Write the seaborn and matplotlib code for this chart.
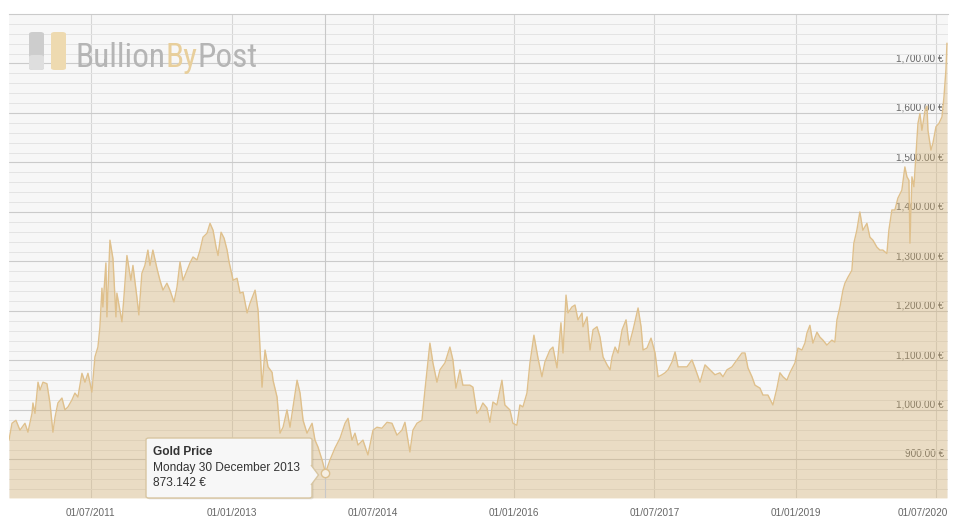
import numpy as np
import pandas as pd
import matplotlib
matplotlib.use("Agg")
import matplotlib.pyplot as plt
import matplotlib.dates as mdates
import matplotlib.transforms as mtransforms
from matplotlib.patches import FancyBboxPatch, Polygon
import seaborn as sns

# === data (time as decimal year, price in EUR/oz) ===
t_years = [
    2010.627, 2010.659, 2010.701, 2010.744, 2010.797, 2010.829, 2010.872, 2010.882, 2010.904, 2010.936, 2010.957, 2010.989,
    2011.031, 2011.063, 2011.095, 2011.117, 2011.148, 2011.191, 2011.223, 2011.255, 2011.297, 2011.329, 2011.361, 2011.404,
    2011.436, 2011.468, 2011.510, 2011.542, 2011.574, 2011.595, 2011.617, 2011.627, 2011.659, 2011.670, 2011.702, 2011.734,
    2011.766, 2011.776, 2011.830, 2011.851, 2011.883, 2011.925, 2011.947, 2011.989,
    2012.010, 2012.042, 2012.074, 2012.106, 2012.128, 2012.159, 2012.202, 2012.234, 2012.266, 2012.308, 2012.340, 2012.383,
    2012.415, 2012.447, 2012.479, 2012.521, 2012.553, 2012.585, 2012.628, 2012.660, 2012.691, 2012.734, 2012.766, 2012.798,
    2012.830, 2012.851, 2012.883, 2012.915, 2012.947, 2012.968,
    2013.011, 2013.053, 2013.085, 2013.117, 2013.160, 2013.192, 2013.245, 2013.277, 2013.319, 2013.351, 2013.383, 2013.426,
    2013.436, 2013.479, 2013.511, 2013.543, 2013.585, 2013.617, 2013.649, 2013.692, 2013.724, 2013.756, 2013.798, 2013.852,
    2013.883, 2013.915, 2013.958, 2013.995,
    2014.043, 2014.096, 2014.150, 2014.203, 2014.235, 2014.277, 2014.309, 2014.341, 2014.394, 2014.447, 2014.501, 2014.543,
    2014.596, 2014.650, 2014.703, 2014.756, 2014.809, 2014.841, 2014.894, 2014.926, 2014.969,
    2015.022, 2015.054, 2015.107, 2015.139, 2015.182, 2015.214, 2015.267, 2015.320, 2015.352, 2015.384, 2015.427, 2015.458,
    2015.533, 2015.565, 2015.607, 2015.639, 2015.671, 2015.714, 2015.746, 2015.778, 2015.820, 2015.874, 2015.905, 2015.959,
    2015.991,
    2016.033, 2016.065, 2016.097, 2016.140, 2016.172, 2016.214, 2016.257, 2016.299, 2016.331, 2016.384, 2016.416, 2016.459,
    2016.501, 2016.523, 2016.555, 2016.576, 2016.618, 2016.650, 2016.682, 2016.725, 2016.735, 2016.778, 2016.810, 2016.842,
    2016.884, 2016.916, 2016.948, 2016.991,
    2017.023, 2017.044, 2017.076, 2017.108, 2017.151, 2017.193, 2017.225, 2017.268, 2017.321, 2017.353, 2017.374, 2017.416,
    2017.459, 2017.502, 2017.534, 2017.576, 2017.608, 2017.640, 2017.683, 2017.715, 2017.747, 2017.800, 2017.842, 2017.895,
    2017.927, 2017.981,
    2018.034, 2018.087, 2018.140, 2018.193, 2018.225, 2018.268, 2018.321, 2018.374, 2018.427, 2018.460, 2018.491, 2018.534,
    2018.566, 2018.619, 2018.651, 2018.704, 2018.757, 2018.800, 2018.832, 2018.864, 2018.906, 2018.938, 2018.992,
    2019.024, 2019.066, 2019.098, 2019.119, 2019.151, 2019.183, 2019.226, 2019.258, 2019.290, 2019.332, 2019.385, 2019.417,
    2019.439, 2019.471, 2019.503, 2019.524, 2019.556, 2019.598, 2019.619, 2019.651, 2019.683, 2019.715, 2019.758, 2019.790,
    2019.822, 2019.864, 2019.896, 2019.928, 2019.971, 2019.992,
    2020.024, 2020.056, 2020.088, 2020.130, 2020.162, 2020.184, 2020.205, 2020.216, 2020.237, 2020.258, 2020.290, 2020.301,
    2020.322, 2020.343, 2020.375, 2020.397, 2020.407, 2020.439, 2020.460, 2020.492, 2020.524, 2020.556, 2020.577, 2020.598,
    2020.609,
]
prices = [
    939, 973, 979, 959, 973, 955, 993, 1014, 993, 1056, 1040, 1056,
    1053, 1014, 955, 985, 1014, 1024, 1000, 1006, 1020, 1034, 1026, 1074,
    1056, 1074, 1036, 1107, 1127, 1167, 1246, 1208, 1297, 1188, 1343, 1306,
    1188, 1236, 1178, 1228, 1312, 1262, 1292, 1228,
    1192, 1276, 1292, 1323, 1292, 1323, 1286, 1262, 1242, 1256, 1242, 1218,
    1248, 1299, 1262, 1282, 1297, 1309, 1303, 1323, 1349, 1357, 1377, 1363,
    1329, 1312, 1359, 1347, 1323, 1299,
    1262, 1266, 1236, 1238, 1196, 1216, 1242, 1201, 1046, 1121, 1087, 1076,
    1060, 1026, 953, 965, 1000, 965, 1006, 1060, 1034, 979, 953, 973,
    939, 925, 899, 873.142,
    899, 923, 943, 973, 983, 939, 953, 929, 939, 909, 959, 965,
    963, 975, 973, 949, 959, 975, 915, 959, 973,
    979, 1040, 1135, 1095, 1056, 1081, 1095, 1127, 1101, 1044, 1081, 1050,
    1050, 1046, 993, 1000, 1014, 1004, 975, 1016, 1010, 1060, 1010, 1000,
    973,
    969, 1010, 1006, 1034, 1095, 1151, 1105, 1067, 1097, 1121, 1127, 1085,
    1176, 1115, 1232, 1196, 1208, 1212, 1182, 1196, 1168, 1188, 1121, 1162,
    1168, 1147, 1107, 1091,
    1081, 1107, 1127, 1115, 1162, 1182, 1131, 1162, 1206, 1168, 1121, 1125,
    1145, 1115, 1067, 1071, 1075, 1081, 1097, 1117, 1087, 1087, 1087, 1101,
    1085, 1056,
    1091, 1081, 1071, 1075, 1067, 1081, 1087, 1101, 1115, 1115, 1085, 1067,
    1050, 1044, 1030, 1030, 1010, 1044, 1075, 1067, 1060, 1075, 1095,
    1125, 1121, 1135, 1155, 1171, 1135, 1157, 1147, 1141, 1131, 1141, 1137,
    1182, 1208, 1242, 1256, 1268, 1282, 1337, 1363, 1400, 1363, 1377, 1349,
    1343, 1329, 1323, 1323, 1316, 1363,
    1404, 1404, 1428, 1444, 1491, 1471, 1464, 1337, 1471, 1451, 1545, 1579,
    1599, 1565, 1604, 1614, 1565, 1525, 1539, 1572, 1579, 1592, 1632, 1687,
    1741,
]

x_tick_dates = ["2011-07-01", "2013-01-01", "2014-07-01", "2016-01-01",
                "2017-07-01", "2019-01-01", "2020-07-01"]
y_ticks = [900, 1000, 1100, 1200, 1300, 1400, 1500, 1600, 1700]
y_tick_labels = ["900.00 €", "1,000.00 €", "1,100.00 €", "1,200.00 €", "1,300.00 €",
                 "1,400.00 €", "1,500.00 €", "1,600.00 €", "1,700.00 €"]
y_range = (822, 1800)
x_range = (2010.627, 2020.620)

tooltip_title = "Gold Price"
tooltip_date = "2013-12-30"
tooltip_price = 873.142

logo_parts = ["Bullion", "By", "Post"]

LINE = "#dfc08c"
FILL = "#d4ae6a"
W, H = 956, 531


def decimal_to_date(t):
    year = int(t)
    start = pd.Timestamp(year, 1, 1)
    end = pd.Timestamp(year + 1, 1, 1)
    return start + (end - start) * (t - year)


def px(x, y):
    # figure pixel (from top-left) -> figure fraction
    return x / W, 1 - y / H


df = pd.DataFrame({"date": [decimal_to_date(t) for t in t_years], "price": prices})

sns.set_style("white")
plt.rcParams["font.family"] = ["Liberation Sans", "DejaVu Sans"]

fig = plt.figure(figsize=(W / 100, H / 100), dpi=100)
ax = fig.add_axes([9 / W, 33 / H, 939 / W, 484 / H])
ax.set_facecolor("#f7f7f7")

# === area + line ===
ax.fill_between(df["date"], df["price"], y_range[0], color=FILL, alpha=0.36, lw=0, zorder=2)
sns.lineplot(data=df, x="date", y="price", ax=ax, color=LINE, lw=1.0, zorder=3)

ax.set_xlim(decimal_to_date(x_range[0]), decimal_to_date(x_range[1]))
ax.set_ylim(*y_range)
ax.set_xlabel("")
ax.set_ylabel("")

# === grid ===
ax.set_axisbelow(True)
ax.set_yticks(y_ticks, labels=y_tick_labels, ha="right", va="bottom")
ax.set_yticks(np.arange(840, 1800, 20), minor=True)
ax.grid(which="major", axis="y", color="#cbcbcb", lw=0.8)
ax.grid(which="minor", axis="y", color="#e4e4e4", lw=0.7)
ax.set_xticks(pd.to_datetime(x_tick_dates))
ax.xaxis.set_major_formatter(mdates.DateFormatter("%d/%m/%Y"))
ax.grid(which="major", axis="x", color="#d6d6d6", lw=0.8)

for s in ["left", "right", "bottom"]:
    ax.spines[s].set_visible(False)
ax.spines["top"].set_color("#cbcbcb")
ax.spines["top"].set_linewidth(0.8)

ax.yaxis.tick_right()
ax.tick_params(axis="y", which="both", length=0, pad=-3, labelsize=7.2, labelcolor="#666666")
ax.tick_params(axis="x", length=0, pad=7, labelsize=7.2, labelcolor="#666666")

# === tooltip ===
tip_ts = pd.Timestamp(tooltip_date)
ax.axvline(tip_ts, color="#c8c8c8", lw=0.8, zorder=2.5)
ax.plot([tip_ts], [tooltip_price], marker="o", ms=6, mfc="#f6efe2", mec="#dcc08f", mew=1.0, zorder=5)

x0, y0 = px(146, 498)
x1, y1 = px(312, 438)
shadow = FancyBboxPatch((x0 + 1.5 / W, y0 - 1.5 / H), x1 - x0, y1 - y0,
                        boxstyle="round,pad=0,rounding_size=0.003",
                        transform=fig.transFigure, fc="black", ec="none", alpha=0.08, zorder=6)
box = FancyBboxPatch((x0, y0), x1 - x0, y1 - y0, boxstyle="round,pad=0,rounding_size=0.003",
                     transform=fig.transFigure, fc="#f7f7f7", ec="#d8c6a2", lw=1.0, zorder=7)
pointer = Polygon([px(311, 465), px(318.5, 475), px(311, 485)], closed=False,
                  transform=fig.transFigure, fc="#f7f7f7", ec="#d8c6a2", lw=1.0, zorder=8)
fig.add_artist(shadow)
fig.add_artist(box)
fig.add_artist(pointer)

tip_day = tip_ts.strftime("%A ") + str(tip_ts.day) + tip_ts.strftime(" %B %Y")
fig.text(*px(153, 452), tooltip_title, weight="bold", size=8.6, color="#333333", va="center", zorder=9)
fig.text(*px(153, 467.5), tip_day, size=8.6, color="#333333", va="center", zorder=9)
fig.text(*px(153, 482.5), f"{tooltip_price:.3f} €", size=8.6, color="#333333", va="center", zorder=9)

# === watermark logo ===
for xl, c in [(29, "#cdcdcd"), (51, "#eedab0")]:
    lx, ly = px(xl, 70)
    fig.add_artist(FancyBboxPatch((lx, ly), 15 / W, 38 / H, boxstyle="round,pad=0,rounding_size=0.004",
                                  transform=fig.transFigure, fc=c, ec="none", zorder=4))
lx, ly = px(29, 70)
fig.add_artist(FancyBboxPatch((lx, ly), 15 / W, 15 / H, boxstyle="round,pad=0,rounding_size=0.004",
                              transform=fig.transFigure, fc="#dedede", ec="none", zorder=4))

logo_font = dict(size=27, family=["Liberation Sans Narrow", "Roboto Condensed", "Liberation Sans"],
                 fontstretch="condensed", va="bottom", zorder=5)
t1 = fig.text(*px(75, 72), logo_parts[0], color="#b5b5b5", **logo_font)
t2 = ax.annotate(logo_parts[1], xy=(1, 0), xycoords=t1, color="#e8cf9c", annotation_clip=False, **logo_font)
t3 = ax.annotate(logo_parts[2], xy=(1, 0), xycoords=t2, color="#b5b5b5", annotation_clip=False, **logo_font)

# fit the logo word to its width in the reference (~182 px)
fig.canvas.draw()
r = fig.canvas.get_renderer()
width = t3.get_window_extent(r).x1 - t1.get_window_extent(r).x0
new_size = 27 * 182 / width
for t in (t1, t2, t3):
    t.set_size(new_size)
t1.set_position(px(75, 67 + 0.21 * new_size * 100 / 72))

# last date label sits right-aligned against the plot edge
last = ax.get_xticklabels()[-1]
last.set_ha("right")
last.set_transform(last.get_transform() + mtransforms.ScaledTranslation(0.115, 0, fig.dpi_scale_trans))

fig.savefig("out.png", dpi=100, facecolor="white")
